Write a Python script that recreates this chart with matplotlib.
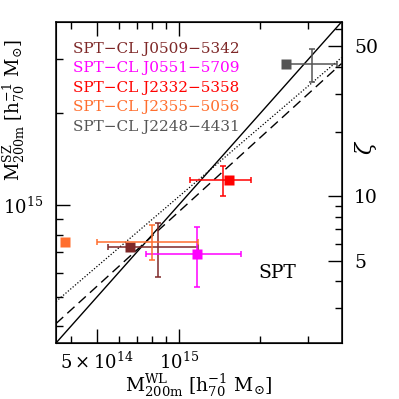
import numpy as np
import matplotlib
matplotlib.use("Agg")
import matplotlib.pyplot as plt
from matplotlib.ticker import FixedLocator, FixedFormatter, NullFormatter

plt.rcParams['font.family'] = ['DejaVu Serif']
plt.rcParams['mathtext.fontset'] = 'dejavuserif'

# clusters
names = ['SPT\u2212CL J0509\u22125342', 'SPT\u2212CL J0551\u22125709', 'SPT\u2212CL J2332\u22125358',
         'SPT\u2212CL J2355\u22125056', 'SPT\u2212CL J2248\u22124431']
colors = ['#7e2828', '#ff00ff', '#ff0000', '#ff6e2e', '#555555']

# square markers (WL mass, SZ mass)
m_wl_sq = [6.6e14, 1.17e15, 1.53e15, 3.8e14, 2.48e15]
m_sz = [7.3e14, 6.9e14, 1.21e15, 7.55e14, 2.9e15]
# error bars
m_wl_bar = [8.4e14, 1.17e15, 1.45e15, 8.0e14, 3.11e15]
m_wl_lo = [5.5e14, 7.55e14, 1.10e15, 5.0e14, 2.48e15]
m_wl_hi = [1.18e15, 1.69e15, 1.85e15, 1.18e15, 3.82e15]
m_sz_lo = [5.8e14, 5.4e14, 1.07e15, 6.6e14, 2.53e15]
m_sz_hi = [8.7e14, 8.45e14, 1.34e15, 8.6e14, 3.24e15]

# scaling relations: M_SZ = norm * (M_WL / pivot)^slope
pivot = 1e15
dashed_norm, dashed_slope = 9.5e14, 0.81
dotted_norm, dotted_slope = 1.065e15, 0.76

mass_lim = (3.53e14, 3.98e15)
zeta_lim = (2.06, 65.0)

x_major = [5e14, 1e15]
x_major_labels = [r'$5\times10^{14}$', r'$10^{15}$']
x_minor = [4e14, 6e14, 7e14, 8e14, 9e14, 2e15, 3e15]
y_major = [1e15]
y_major_labels = [r'$10^{15}$']
y_minor = [4e14, 5e14, 6e14, 7e14, 8e14, 9e14, 2e15, 3e15]
z_major = [5, 10, 50]
z_minor = [3, 4, 6, 7, 8, 9, 20, 30, 40, 60]

fig = plt.figure(figsize=(3.99, 3.99), dpi=100)
ax = fig.add_axes([0.1404, 0.1404, 0.7155, 0.8045])
ax.set_xscale('log')
ax.set_yscale('log')
ax.set_xlim(mass_lim)
ax.set_ylim(mass_lim)

xx = np.logspace(np.log10(mass_lim[0]), np.log10(mass_lim[1]), 50)
ax.plot(xx, xx, color='black', lw=1.0)
ax.plot(xx, dashed_norm * (xx / pivot) ** dashed_slope, color='black', lw=1.0, dashes=(7, 4))
ax.plot(xx, dotted_norm * (xx / pivot) ** dotted_slope, color='black', lw=0.9, dashes=(1, 1.5))

for i in range(len(names)):
    xe = [[m_wl_bar[i] - m_wl_lo[i]], [m_wl_hi[i] - m_wl_bar[i]]]
    ye = [[m_sz[i] - m_sz_lo[i]], [m_sz_hi[i] - m_sz[i]]]
    ax.errorbar([m_wl_bar[i]], [m_sz[i]], xerr=xe, yerr=ye, fmt='none',
                ecolor=colors[i], elinewidth=1.1, capsize=2.5, capthick=1.1)
    ax.plot([m_wl_sq[i]], [m_sz[i]], 's', color=colors[i], ms=6.5, mec='none')
    ax.text(0.06, 0.916 - 0.0607 * i, names[i], color=colors[i], fontsize=11,
            transform=ax.transAxes, va='center', ha='left')

ax.text(0.775, 0.218, 'SPT', fontsize=13.5, transform=ax.transAxes, ha='center', va='center')

ax.xaxis.set_major_locator(FixedLocator(x_major))
ax.xaxis.set_major_formatter(FixedFormatter(x_major_labels))
ax.xaxis.set_minor_locator(FixedLocator(x_minor))
ax.xaxis.set_minor_formatter(NullFormatter())
ax.yaxis.set_major_locator(FixedLocator(y_major))
ax.yaxis.set_major_formatter(FixedFormatter(y_major_labels))
ax.yaxis.set_minor_locator(FixedLocator(y_minor))
ax.yaxis.set_minor_formatter(NullFormatter())
ax.tick_params(which='both', direction='in', top=True, right=False, width=1.0, labelsize=13, pad=9)
ax.tick_params(axis='x', pad=6)
ax.tick_params(which='major', length=10)
ax.tick_params(which='minor', length=5)
for s in ax.spines.values():
    s.set_linewidth(1.1)

ax.set_xlabel(r'M$^{\rm WL}_{\rm 200m}$ [h$^{-1}_{70}$ M$_{\odot}$]', fontsize=13.5)
ax.set_ylabel(r'M$^{\rm SZ}_{\rm 200m}$ [h$^{-1}_{70}$ M$_{\odot}$]', fontsize=13)
ax.xaxis.set_label_coords(0.5, -0.092)
ax.yaxis.set_label_coords(-0.1, 0.726)

ax2 = ax.twinx()
ax2.set_yscale('log')
ax2.set_ylim(zeta_lim)
ax2.yaxis.set_major_locator(FixedLocator(z_major))
ax2.yaxis.set_major_formatter(FixedFormatter([str(z) for z in z_major]))
ax2.yaxis.set_minor_locator(FixedLocator(z_minor))
ax2.yaxis.set_minor_formatter(NullFormatter())
ax2.tick_params(which='both', direction='in', width=1.0, labelsize=13.5, pad=9)
ax2.tick_params(which='major', length=10)
ax2.tick_params(which='minor', length=5)
ax2.set_ylabel(r'$\zeta$', fontsize=16)
ax2.yaxis.set_label_coords(1.042, 0.61)

fig.savefig('out.png', dpi=100)
